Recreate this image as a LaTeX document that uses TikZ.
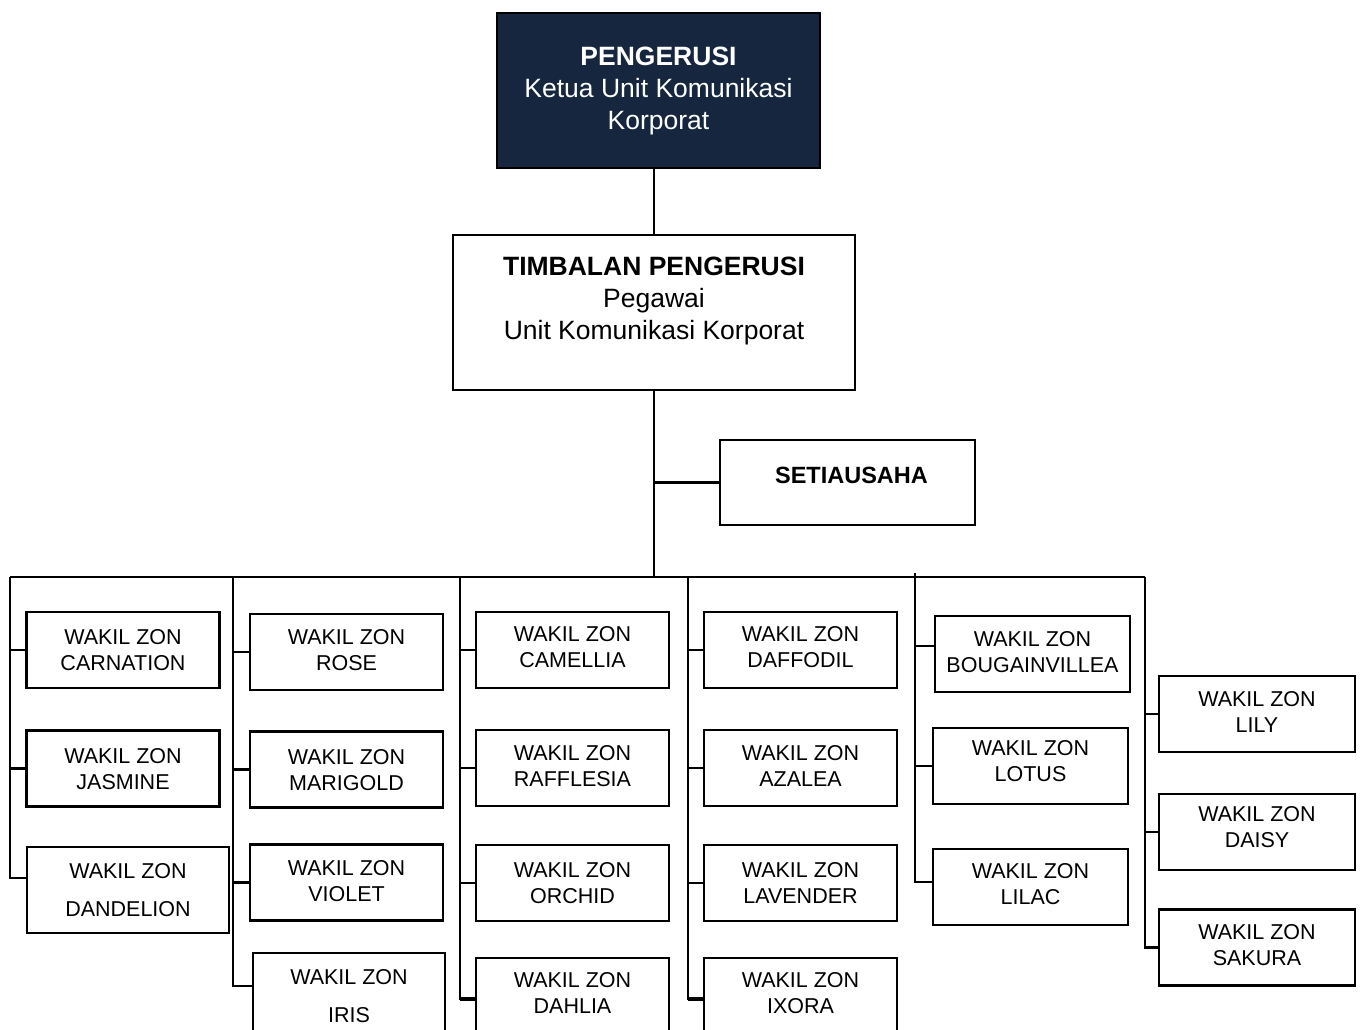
\documentclass[tikz,border=0pt]{standalone}
\usepackage{fontspec}
\setmainfont{Liberation Sans}
\definecolor{chairblue}{HTML}{16263F}
\begin{document}
\begin{tikzpicture}[x=1pt, y=-1pt,
        headbox/.style={draw=black, line width=2.8pt, align=center,
            font=\fontsize{26.5}{32}\selectfont, inner sep=0pt},
        zonebox/.style={draw=black, line width=2.8pt, align=center,
            minimum width=193, minimum height=76, inner sep=0pt, text depth=4pt,
            font=\fontsize{21.5}{26}\selectfont},
        link/.style={black, line width=2.2pt},
        boldlink/.style={black, line width=3.6pt}]
        \clip (0,0) rectangle (1361,1030);
        % Top of the chart: chairman, deputy, secretary
        \node[headbox, fill=chairblue, text=white, minimum width=323, minimum height=155]
            (chair) at (658.5,90.5) {\textbf{PENGERUSI}\\Ketua Unit Komunikasi\\Korporat};
        \node[headbox, minimum width=402, minimum height=155, text depth=29pt]
            (deputy) at (654,312.5) {\textbf{TIMBALAN PENGERUSI}\\Pegawai\\Unit Komunikasi Korporat};
        \node[headbox, minimum width=255, minimum height=85, text depth=15pt,
            font=\fontsize{23.5}{28}\selectfont\bfseries]
            (sec) at (847.5,482.5) {\hspace{8pt}SETIAUSAHA};

        % Bus and column tops
        \coordinate (busL) at (10,577);
        \coordinate (busR) at (1145,577);
        \coordinate (col1) at (10,577);
        \coordinate (col2) at (233,577);
        \coordinate (col3) at (460,577);
        \coordinate (col4) at (688,577);
        \coordinate (col5) at (915,573);
        \coordinate (col6) at (1145,577);

        % Column 1
        \node[zonebox, text depth=0pt] (carnation) at (123,650) {WAKIL ZON\\CARNATION};
        \node[zonebox, text depth=0pt] (jasmine) at (123,768.5) {WAKIL ZON\\JASMINE};
        \node[zonebox, text depth=0pt, minimum width=202, minimum height=86] (dandelion) at (128,890) {WAKIL ZON\\[12pt]DANDELION};

        % Column 2
        \node[zonebox, text depth=5pt] (rose) at (346.5,652) {WAKIL ZON\\ROSE};
        \node[zonebox, text depth=0pt] (marigold) at (346.5,769.5) {WAKIL ZON\\MARIGOLD};
        \node[zonebox] (violet) at (346.5,882.5) {WAKIL ZON\\VIOLET};
        \node[zonebox, text depth=0pt, minimum width=192, minimum height=86] (iris) at (349,996) {WAKIL ZON\\[12pt]IRIS};

        % Column 3
        \node[zonebox, text depth=6pt] (camellia) at (572.5,650) {WAKIL ZON\\CAMELLIA};
        \node[zonebox] (rafflesia) at (572.5,768) {WAKIL ZON\\RAFFLESIA};
        \node[zonebox, text depth=0pt] (orchid) at (572.5,883) {WAKIL ZON\\ORCHID};
        \node[zonebox, text depth=6pt] (dahlia) at (572.5,996) {WAKIL ZON\\DAHLIA};

        % Column 4
        \node[zonebox, text depth=6pt] (daffodil) at (800.5,650) {WAKIL ZON\\DAFFODIL};
        \node[zonebox] (azalea) at (800.5,768) {WAKIL ZON\\AZALEA};
        \node[zonebox, text depth=0pt] (lavender) at (800.5,883) {WAKIL ZON\\LAVENDER};
        \node[zonebox, text depth=6pt] (ixora) at (800.5,996) {WAKIL ZON\\IXORA};

        % Column 5
        \node[zonebox, minimum width=195] (bougainvillea) at (1032.5,654) {WAKIL ZON\\BOUGAINVILLEA};
        \node[zonebox, minimum width=195, text depth=10pt] (lotus) at (1030.5,766) {WAKIL ZON\\LOTUS};
        \node[zonebox, minimum width=195, text depth=6pt] (lilac) at (1030.5,887) {WAKIL ZON\\LILAC};

        % Column 6
        \node[zonebox, minimum width=196, text depth=5pt] (lily) at (1257,714) {WAKIL ZON\\LILY};
        \node[zonebox, minimum width=196, text depth=10pt] (daisy) at (1257,832) {WAKIL ZON\\DAISY};
        \node[zonebox, minimum width=196, text depth=6pt] (sakura) at (1257,947.5) {WAKIL ZON\\SAKURA};

        % Edges
        \draw[link] (deputy.north) -- (deputy.north |- chair.south);
        \draw[link] (deputy.south) -- (deputy.south |- busL);
        \draw[link] (sec.west) -- (sec.west -| deputy.south);
        \draw[link] (busL) -- (busR);

        \foreach \b in {carnation, jasmine} \draw[link] (col1) |- (\b.west);
        \draw[link] (col1) |- ([yshift=12pt]dandelion.west);
        \foreach \b in {rose, marigold, violet} \draw[link] (col2) |- (\b.west);
        \draw[link] (col2) |- ([yshift=10pt]iris.west);
        \foreach \b in {camellia, rafflesia, orchid} \draw[link] (col3) |- (\b.west);
        \draw[boldlink] (col3) ++(0,422) -- ([yshift=-3pt]dahlia.west);
        \draw[link] (col3) |- ([yshift=-3pt]dahlia.west);
        \foreach \b in {daffodil, azalea, lavender} \draw[link] (col4) |- (\b.west);
        \draw[boldlink] (col4) ++(0,422) -- ([yshift=-3pt]ixora.west);
        \draw[link] (col4) |- ([yshift=-3pt]ixora.west);
        \draw[link] (col5) |- ([yshift=8pt]bougainvillea.west);
        \draw[link] (col5) |- (lotus.west);
        \draw[link] (col5) |- ([yshift=5pt]lilac.west);
        \foreach \b in {lily, daisy, sakura} \draw[link] (col6) |- (\b.west);
    \end{tikzpicture}
\end{document}
